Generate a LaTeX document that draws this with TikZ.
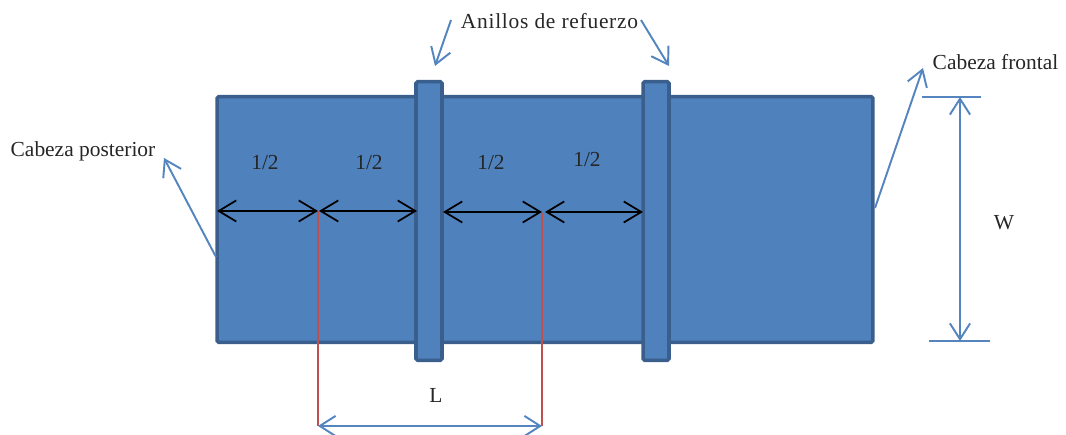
\documentclass[tikz,border=0pt]{standalone}
\usepackage{fontspec}
\setmainfont{Liberation Serif}
\usetikzlibrary{arrows.meta}
\definecolor{barfill}{HTML}{4F81BD}
\definecolor{barline}{HTML}{3A5F8C}
\definecolor{callout}{HTML}{5585BF}
\definecolor{redline}{HTML}{C0504D}
\tikzset{
barbox/.style={draw=barline, fill=barfill, line width=2pt, rounded corners=1pt, inner sep=0pt, outer sep=0pt},
lbl/.style={inner sep=0pt, font=\fontsize{12.2}{14}\selectfont, text=black!85},
blueline/.style={draw=callout, line width=1.1pt},
bluearrow/.style={blueline, -{Straight Barb[length=9pt, width=11.5pt, line width=1.1pt]}},
bluedim/.style={blueline, {Straight Barb[length=9pt, width=11.5pt, line width=1.1pt]}-{Straight Barb[length=9pt, width=11.5pt, line width=1.1pt]}},
blackdim/.style={black, line width=1pt, {Straight Barb[length=10pt, width=12pt, line width=1pt]}-{Straight Barb[length=10pt, width=12pt, line width=1pt]}},
}
\begin{document}
\begin{tikzpicture}[x=0.02cm, y=-0.02cm]
\useasboundingbox (0,0) rectangle (1066,435);
\node[barbox, minimum width=13.12cm, minimum height=4.92cm] (barra) at (545,219.5) {};
\node[barbox, minimum width=0.52cm, minimum height=5.58cm] (anilloa) at (429,221) {};
\node[barbox, minimum width=0.52cm, minimum height=5.58cm] (anillob) at (656,221) {};
% labels
\node[lbl] (anillos) at (549.5,21) {\addfontfeature{LetterSpace=3.4}Anillos de refuerzo};
\node[lbl] (posterior) at (83,151) {Cabeza posterior};
\node[lbl] (frontal) at (995.5,62) {Cabeza frontal};
\node[lbl] (mediaa) at (265,163) {1/2};
\node[lbl] (mediab) at (369,163) {1/2};
\node[lbl] (mediac) at (491,163) {1/2};
\node[lbl] (mediad) at (587,160) {1/2};
\node[lbl] (ancho) at (1004,223) {W};
\node[lbl] (largo) at (436,395) {L};
% end points
\coordinate (a0) at (217,211);
\coordinate (a1) at (318,211);
\coordinate (a2) at (319,211);
\coordinate (a3) at (417,211);
\coordinate (b0) at (443,212);
\coordinate (b1) at (542,212);
\coordinate (b2) at (545,212);
\coordinate (b3) at (643,212);
\coordinate (la) at (318,426);
\coordinate (lb) at (542,426);
\coordinate (lt) at (542,213);
\coordinate (wa) at (960,97);
\coordinate (wb) at (960,341);
\coordinate (wa1) at (922,97);
\coordinate (wa2) at (981,97);
\coordinate (wb1) at (929,341);
\coordinate (wb2) at (990,341);
\coordinate (ca0) at (451,20);
\coordinate (ca1) at (435,66);
\coordinate (cb0) at (641,20);
\coordinate (cb1) at (669,66);
\coordinate (cp0) at (216,257);
\coordinate (cp1) at (164,158);
\coordinate (cf0) at (875,208);
\coordinate (cf1) at (923,68);
% red lines
\draw[redline, line width=1pt] (a1) -- (la);
\draw[redline, line width=1pt] (lt) -- (lb);
% dimensions
\draw[blackdim] (a0) -- (a1);
\draw[blackdim] (a2) -- (a3);
\draw[blackdim] (b0) -- (b1);
\draw[blackdim] (b2) -- (b3);
\draw[bluedim] (la) -- (lb);
\draw[bluedim] (wa) -- (wb);
\draw[blueline] (wa1) -- (wa2);
\draw[blueline] (wb1) -- (wb2);
% callouts
\draw[bluearrow] (ca0) -- (ca1);
\draw[bluearrow] (cb0) -- (cb1);
\draw[bluearrow] (cp0) -- (cp1);
\draw[bluearrow] (cf0) -- (cf1);
\end{tikzpicture}
\end{document}
